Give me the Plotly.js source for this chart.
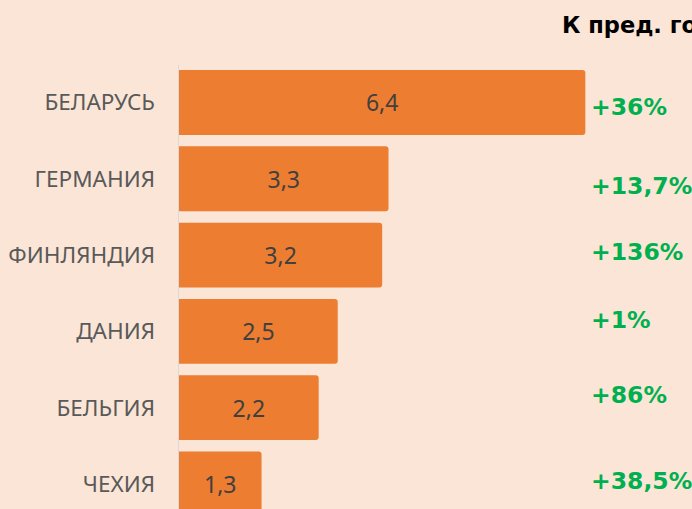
<!DOCTYPE html>
<html>
<head>
<meta charset="utf-8">
<script src="https://cdn.plot.ly/plotly-3.0.1.min.js"></script>
<style>html,body{margin:0;padding:0;background:#FBE5D6;overflow:hidden}#chart{width:692px;height:509px}</style>
</head>
<body>
<div id="chart"></div>
<script>
const countries = ["БЕЛАРУСЬ", "ГЕРМАНИЯ", "ФИНЛЯНДИЯ", "ДАНИЯ", "БЕЛЬГИЯ", "ЧЕХИЯ"];
const values = [6.4, 3.3, 3.2, 2.5, 2.2, 1.3];
const valueLabels = ["6,4", "3,3", "3,2", "2,5", "2,2", "1,3"];
const changeLabels = ["+36%", "+13,7%", "+136%", "+1%", "+86%", "+38,5%"];
const titleText = "К пред. году";

// pixel offsets of the change labels relative to bar centres (layout only)
const changeShift = [-5, -7, 3, 11, 13, 3];

const trace = {
  type: "bar",
  orientation: "h",
  y: countries,
  x: values,
  text: valueLabels,
  textposition: "inside",
  insidetextanchor: "middle",
  textangle: 0,
  textfont: {family: "Noto Sans", size: 23, color: "#404040"},
  marker: {color: "#ED7D31", cornerradius: 3},
  width: 0.85,
  hoverinfo: "none"
};

const annotations = changeLabels.map((t, i) => ({
  text: t,
  xref: "paper", x: 0.799, xanchor: "left",
  yref: "y", y: i, yanchor: "middle", yshift: changeShift[i],
  showarrow: false,
  font: {family: "DejaVu Sans", size: 23.5, color: "#00B050", weight: "bold"}
}));
annotations.push({
  text: "<b>" + titleText + "</b>",
  xref: "paper", x: 0.743, xanchor: "left",
  yref: "paper", y: 1.09, yanchor: "middle",
  showarrow: false,
  font: {family: "DejaVu Sans", size: 22.5, color: "#000000"}
});

const layout = {
  width: 692, height: 509,
  margin: {l: 179, r: 0, t: 65, b: 0, pad: 0},
  paper_bgcolor: "#FBE5D6",
  plot_bgcolor: "#FBE5D6",
  showlegend: false,
  xaxis: {range: [0, 8.08], showgrid: false, zeroline: false, showticklabels: false, showline: false, fixedrange: true},
  yaxis: {
    type: "category",
    range: [5.328, -0.491],
    showgrid: false, zeroline: false,
    showline: true, linecolor: "#D9D9D9", linewidth: 1.5,
    ticks: "outside", ticklen: 18, tickcolor: "rgba(0,0,0,0)",
    tickfont: {family: "Noto Sans", size: 22.5, color: "#595959"},
    fixedrange: true
  },
  annotations: annotations
};

Plotly.newPlot("chart", [trace], layout, {displayModeBar: false, staticPlot: true});
</script>
</body>
</html>
